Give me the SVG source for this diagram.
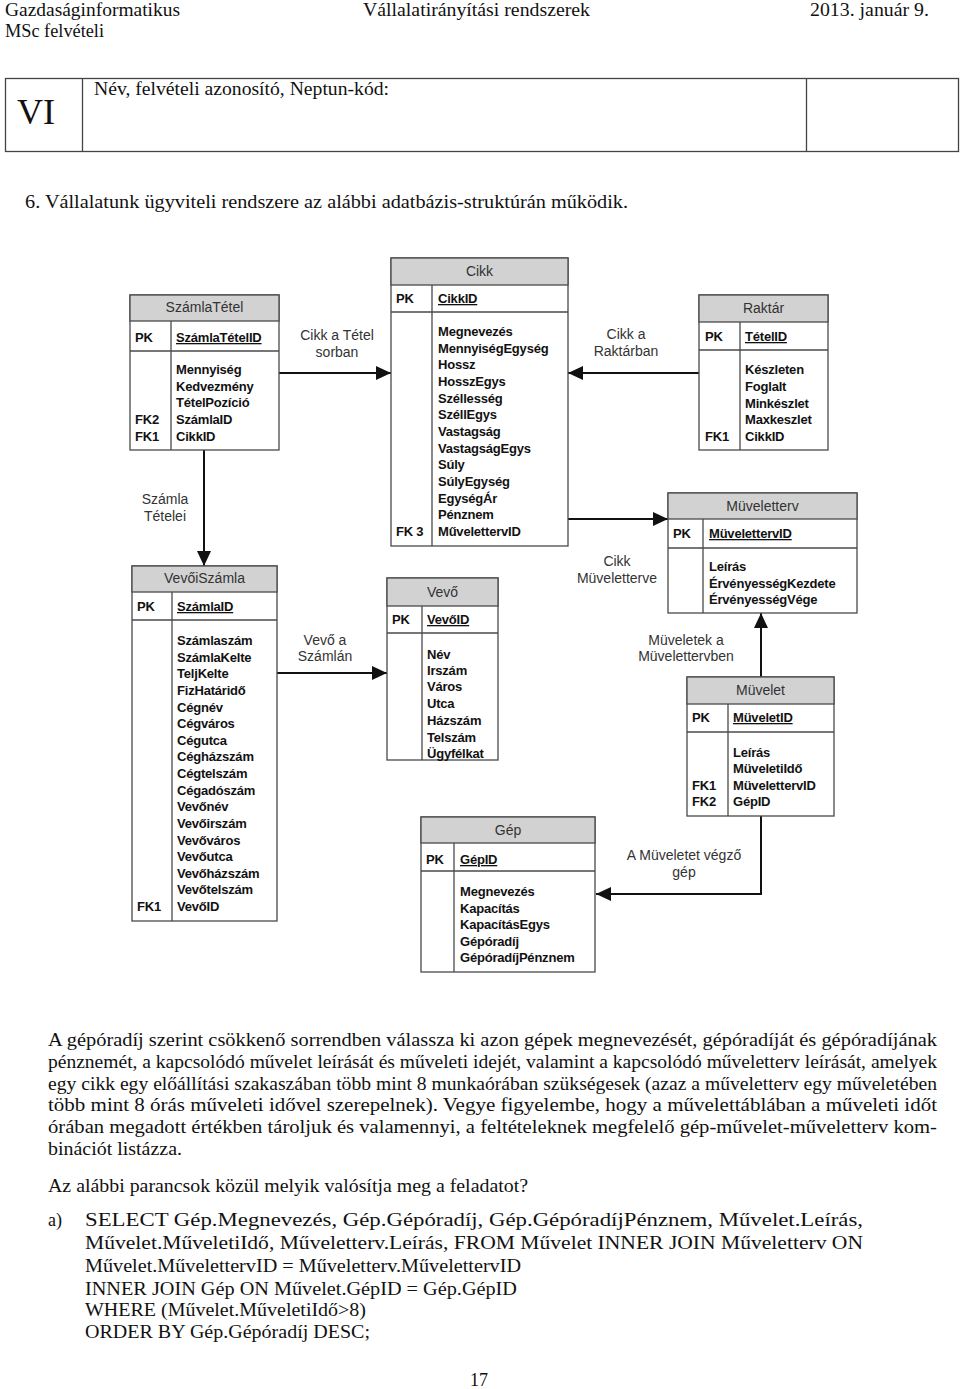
<svg xmlns="http://www.w3.org/2000/svg" width="960" height="1389" viewBox="0 0 960 1389">
<style>
.doc{font-family:"Liberation Serif","DejaVu Serif",serif;font-size:18px;fill:#111}
.outer{fill:#fff;stroke:#4a4a4a;stroke-width:1.3}
.hdr{fill:#d2d2d2;stroke:#4a4a4a;stroke-width:1.3}
.ln{stroke:#4a4a4a;stroke-width:1.3;fill:none}
.ttl{font-family:"Liberation Sans",Arial,sans-serif;font-size:14px;fill:#333;text-anchor:middle}
.att{font-family:"Liberation Sans",Arial,sans-serif;font-size:13px;font-weight:bold;fill:#111;letter-spacing:-0.2px}
.pk{text-decoration:underline}
.lbl{font-family:"Liberation Sans",Arial,sans-serif;font-size:14px;fill:#333;text-anchor:middle}
.conn{stroke:#111;stroke-width:2;fill:none;marker-end:url(#arr)}
</style>
<defs>
<marker id="arr" markerUnits="userSpaceOnUse" markerWidth="15" markerHeight="14" refX="15" refY="7" orient="auto">
<path d="M0,0 L15,7 L0,14 z" fill="#111"/>
</marker>
</defs>
<rect width="960" height="1389" fill="#fff"/>

<g id="page-header" class="doc">
<text x="5" y="16" textLength="175" lengthAdjust="spacingAndGlyphs">Gazdaságinformatikus</text>
<text x="363" y="16" textLength="227" lengthAdjust="spacingAndGlyphs">Vállalatirányítási rendszerek</text>
<text x="810" y="16" textLength="119" lengthAdjust="spacingAndGlyphs">2013. január 9.</text>
<text x="5" y="37" textLength="99" lengthAdjust="spacingAndGlyphs">MSc felvételi</text>
</g>

<g id="name-box">
<rect x="5.5" y="78.5" width="953" height="73" fill="none" stroke="#444" stroke-width="1.3"/>
<line x1="82.5" y1="78.5" x2="82.5" y2="151.5" stroke="#444" stroke-width="1.3"/>
<line x1="806.5" y1="78.5" x2="806.5" y2="151.5" stroke="#444" stroke-width="1.3"/>
<text x="17" y="124" font-family="Liberation Serif,serif" font-size="36" fill="#111">VI</text>
<text class="doc" x="94" y="95" textLength="295" lengthAdjust="spacingAndGlyphs">Név, felvételi azonosító, Neptun-kód:</text>
</g>

<text class="doc" x="25" y="208" textLength="603" lengthAdjust="spacingAndGlyphs">6. Vállalatunk ügyviteli rendszere az alábbi adatbázis-struktúrán működik.</text>

<g id="connectors">
<path class="conn" d="M279,373 H391"/>
<path class="conn" d="M699,373 H568"/>
<path class="conn" d="M204,450 V566"/>
<path class="conn" d="M277,673 H387"/>
<path class="conn" d="M568,519 H668"/>
<path class="conn" d="M761,677 V613"/>
<path class="conn" d="M761,816 V894 H596"/>
<text class="lbl" x="337" y="340">Cikk a Tétel</text>
<text class="lbl" x="337" y="357">sorban</text>
<text class="lbl" x="165" y="504">Számla</text>
<text class="lbl" x="165" y="521">Tételei</text>
<text class="lbl" x="626" y="339">Cikk a</text>
<text class="lbl" x="626" y="356">Raktárban</text>
<text class="lbl" x="617" y="566">Cikk</text>
<text class="lbl" x="617" y="583">Müveletterve</text>
<text class="lbl" x="325" y="645">Vevő a</text>
<text class="lbl" x="325" y="661">Számlán</text>
<text class="lbl" x="686" y="645">Müveletek a</text>
<text class="lbl" x="686" y="661">Müvelettervben</text>
<text class="lbl" x="684" y="860">A Müveletet végző</text>
<text class="lbl" x="684" y="877">gép</text>
</g>

<g id="SzamlaTetel">
<rect class="outer" x="130" y="295" width="149" height="155"/>
<rect class="hdr" x="130" y="295" width="149" height="26"/>
<line class="ln" x1="130" y1="351" x2="279" y2="351"/>
<line class="ln" x1="171" y1="321" x2="171" y2="450"/>
<text class="ttl" x="204.5" y="312">SzámlaTétel</text>
<text class="att" x="135" y="342">PK</text>
<text class="att pk" x="176" y="342">SzámlaTételID</text>
<text class="att" x="176" y="374">Mennyiség</text>
<text class="att" x="176" y="391">Kedvezmény</text>
<text class="att" x="176" y="407">TételPozíció</text>
<text class="att" x="176" y="424">SzámlaID</text>
<text class="att" x="176" y="441">CikkID</text>
<text class="att" x="135" y="424">FK2</text>
<text class="att" x="135" y="441">FK1</text>
</g>

<g id="Cikk">
<rect class="outer" x="391" y="258" width="177" height="288"/>
<rect class="hdr" x="391" y="258" width="177" height="27"/>
<line class="ln" x1="391" y1="312" x2="568" y2="312"/>
<line class="ln" x1="432" y1="285" x2="432" y2="546"/>
<text class="ttl" x="479.5" y="276">Cikk</text>
<text class="att" x="396" y="303">PK</text>
<text class="att pk" x="438" y="303">CikkID</text>
<text class="att" x="438" y="336">Megnevezés</text>
<text class="att" x="438" y="352.7">MennyiségEgység</text>
<text class="att" x="438" y="369.3">Hossz</text>
<text class="att" x="438" y="386">HosszEgys</text>
<text class="att" x="438" y="402.7">Széllesség</text>
<text class="att" x="438" y="419.3">SzéllEgys</text>
<text class="att" x="438" y="436">Vastagság</text>
<text class="att" x="438" y="452.7">VastagságEgys</text>
<text class="att" x="438" y="469.3">Súly</text>
<text class="att" x="438" y="486">SúlyEgység</text>
<text class="att" x="438" y="502.7">EgységÁr</text>
<text class="att" x="438" y="519.3">Pénznem</text>
<text class="att" x="438" y="536">MűvelettervID</text>
<text class="att" x="396" y="536">FK 3</text>
</g>

<g id="Raktar">
<rect class="outer" x="699" y="295" width="129" height="155"/>
<rect class="hdr" x="699" y="295" width="129" height="27"/>
<line class="ln" x1="699" y1="350" x2="828" y2="350"/>
<line class="ln" x1="740" y1="322" x2="740" y2="450"/>
<text class="ttl" x="763.5" y="313">Raktár</text>
<text class="att" x="705" y="341">PK</text>
<text class="att pk" x="745" y="341">TételID</text>
<text class="att" x="745" y="374">Készleten</text>
<text class="att" x="745" y="391">Foglalt</text>
<text class="att" x="745" y="408">Minkészlet</text>
<text class="att" x="745" y="424">Maxkeszlet</text>
<text class="att" x="745" y="441">CikkID</text>
<text class="att" x="705" y="441">FK1</text>
</g>

<g id="Muveletterv">
<rect class="outer" x="668" y="493" width="189" height="120"/>
<rect class="hdr" x="668" y="493" width="189" height="26"/>
<line class="ln" x1="668" y1="548" x2="857" y2="548"/>
<line class="ln" x1="703" y1="519" x2="703" y2="613"/>
<text class="ttl" x="762.5" y="511">Müveletterv</text>
<text class="att" x="673" y="538">PK</text>
<text class="att pk" x="709" y="538">MüvelettervID</text>
<text class="att" x="709" y="571">Leírás</text>
<text class="att" x="709" y="588">ÉrvényességKezdete</text>
<text class="att" x="709" y="604">ÉrvényességVége</text>
</g>

<g id="VevoiSzamla">
<rect class="outer" x="132" y="566" width="145" height="355"/>
<rect class="hdr" x="132" y="566" width="145" height="26"/>
<line class="ln" x1="132" y1="620" x2="277" y2="620"/>
<line class="ln" x1="172" y1="592" x2="172" y2="921"/>
<text class="ttl" x="204.5" y="583">VevőiSzámla</text>
<text class="att" x="137" y="611">PK</text>
<text class="att pk" x="177" y="611">SzámlaID</text>
<text class="att" x="177" y="645">Számlaszám</text>
<text class="att" x="177" y="661.6">SzámlaKelte</text>
<text class="att" x="177" y="678.3">TeljKelte</text>
<text class="att" x="177" y="694.9">FizHatáridő</text>
<text class="att" x="177" y="711.5">Cégnév</text>
<text class="att" x="177" y="728.1">Cégváros</text>
<text class="att" x="177" y="744.8">Cégutca</text>
<text class="att" x="177" y="761.4">Cégházszám</text>
<text class="att" x="177" y="778">Cégtelszám</text>
<text class="att" x="177" y="794.6">Cégadószám</text>
<text class="att" x="177" y="811.3">Vevőnév</text>
<text class="att" x="177" y="827.9">Vevőirszám</text>
<text class="att" x="177" y="844.5">Vevőváros</text>
<text class="att" x="177" y="861.1">Vevőutca</text>
<text class="att" x="177" y="877.8">Vevőházszám</text>
<text class="att" x="177" y="894.4">Vevőtelszám</text>
<text class="att" x="177" y="911">VevőID</text>
<text class="att" x="137" y="911">FK1</text>
</g>

<g id="Vevo">
<rect class="outer" x="387" y="578" width="111" height="182"/>
<rect class="hdr" x="387" y="578" width="111" height="28"/>
<line class="ln" x1="387" y1="633" x2="498" y2="633"/>
<line class="ln" x1="422" y1="606" x2="422" y2="760"/>
<text class="ttl" x="442.5" y="597">Vevő</text>
<text class="att" x="392" y="624">PK</text>
<text class="att pk" x="427" y="624">VevőID</text>
<text class="att" x="427" y="659">Név</text>
<text class="att" x="427" y="675">Irszám</text>
<text class="att" x="427" y="691">Város</text>
<text class="att" x="427" y="708">Utca</text>
<text class="att" x="427" y="725">Házszám</text>
<text class="att" x="427" y="742">Telszám</text>
<text class="att" x="427" y="758">Ügyfélkat</text>
</g>

<g id="Gep">
<rect class="outer" x="421" y="817" width="174" height="155"/>
<rect class="hdr" x="421" y="817" width="174" height="26"/>
<line class="ln" x1="421" y1="871" x2="595" y2="871"/>
<line class="ln" x1="454" y1="843" x2="454" y2="972"/>
<text class="ttl" x="508" y="835">Gép</text>
<text class="att" x="426" y="864">PK</text>
<text class="att pk" x="460" y="864">GépID</text>
<text class="att" x="460" y="896">Megnevezés</text>
<text class="att" x="460" y="913">Kapacítás</text>
<text class="att" x="460" y="929">KapacításEgys</text>
<text class="att" x="460" y="946">Gépóradíj</text>
<text class="att" x="460" y="962">GépóradíjPénznem</text>
</g>

<g id="Muvelet">
<rect class="outer" x="687" y="677" width="147" height="139"/>
<rect class="hdr" x="687" y="677" width="147" height="27"/>
<line class="ln" x1="687" y1="732" x2="834" y2="732"/>
<line class="ln" x1="728" y1="704" x2="728" y2="816"/>
<text class="ttl" x="760.5" y="695">Müvelet</text>
<text class="att" x="692" y="722">PK</text>
<text class="att pk" x="733" y="722">MüveletID</text>
<text class="att" x="733" y="757">Leírás</text>
<text class="att" x="733" y="773">MüveletiIdő</text>
<text class="att" x="733" y="790">MüvelettervID</text>
<text class="att" x="733" y="806">GépID</text>
<text class="att" x="692" y="790">FK1</text>
<text class="att" x="692" y="806">FK2</text>
</g>

<g id="question" class="doc">
<text x="48" y="1046" textLength="889" lengthAdjust="spacingAndGlyphs">A gépóradíj szerint csökkenő sorrendben válassza ki azon gépek megnevezését, gépóradíját és gépóradíjának</text>
<text x="48" y="1068" textLength="889" lengthAdjust="spacingAndGlyphs">pénznemét, a kapcsolódó művelet leírását és műveleti idejét, valamint a kapcsolódó műveletterv leírását, amelyek</text>
<text x="48" y="1090" textLength="889" lengthAdjust="spacingAndGlyphs">egy cikk egy előállítási szakaszában több mint 8 munkaórában szükségesek (azaz a műveletterv egy műveletében</text>
<text x="48" y="1111" textLength="889" lengthAdjust="spacingAndGlyphs">több mint 8 órás műveleti idővel szerepelnek).  Vegye figyelembe, hogy a művelettáblában a műveleti időt</text>
<text x="48" y="1133" textLength="889" lengthAdjust="spacingAndGlyphs">órában megadott értékben tároljuk és valamennyi, a feltételeknek megfelelő gép-művelet-műveletterv kom-</text>
<text x="48" y="1155" textLength="134" lengthAdjust="spacingAndGlyphs">binációt listázza.</text>
<text x="48" y="1192" textLength="480" lengthAdjust="spacingAndGlyphs">Az alábbi parancsok közül melyik valósítja meg a feladatot?</text>
<text x="48" y="1226">a)</text>
<text x="85" y="1226" textLength="778" lengthAdjust="spacingAndGlyphs">SELECT   Gép.Megnevezés,   Gép.Gépóradíj,   Gép.GépóradíjPénznem,   Művelet.Leírás,</text>
<text x="85" y="1249" textLength="778" lengthAdjust="spacingAndGlyphs">Művelet.MűveletiIdő,  Műveletterv.Leírás,  FROM  Művelet  INNER  JOIN  Műveletterv  ON</text>
<text x="85" y="1272" textLength="436" lengthAdjust="spacingAndGlyphs">Művelet.MűvelettervID = Műveletterv.MűvelettervID</text>
<text x="85" y="1295" textLength="432" lengthAdjust="spacingAndGlyphs">INNER JOIN Gép ON Művelet.GépID = Gép.GépID</text>
<text x="85" y="1316" textLength="281" lengthAdjust="spacingAndGlyphs">WHERE (Művelet.MűveletiIdő&gt;8)</text>
<text x="85" y="1338" textLength="285" lengthAdjust="spacingAndGlyphs">ORDER BY Gép.Gépóradíj DESC;</text>
<text x="470" y="1386">17</text>
</g>
</svg>
